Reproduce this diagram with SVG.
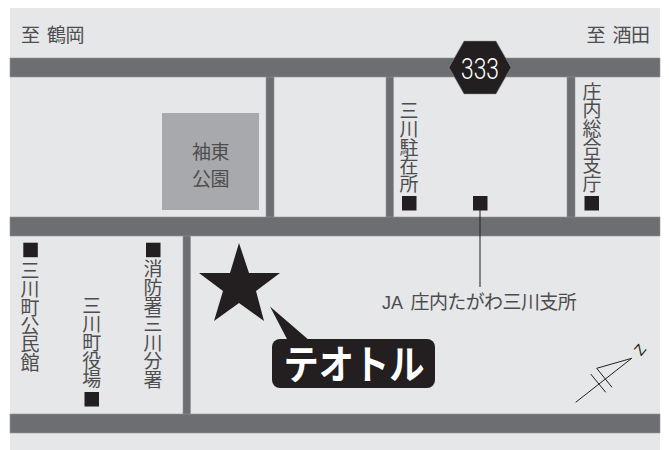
<svg xmlns="http://www.w3.org/2000/svg" width="669" height="450" viewBox="0 0 669 450">
<style>
.t{font-family:"Noto Sans CJK JP","Noto Sans",sans-serif;font-size:19px;letter-spacing:-.6px;font-weight:400;fill:#4d4d4f}
.v{writing-mode:vertical-rl}
.road{fill:#6d6e71;stroke:#939598;stroke-width:.6}
.k{fill:#231f20}
.n{fill:none;stroke:#231f20;stroke-width:1}
</style>
<rect width="669" height="450" fill="#fff"/>
<rect x="10" y="8" width="650" height="442" fill="#e6e7e8"/>
<g id="roads">
<rect class="road" x="266" y="70" width="8" height="150"/>
<rect class="road" x="386" y="70" width="7.500" height="150"/>
<rect class="road" x="567" y="70" width="8" height="150"/>
<rect class="road" x="183" y="230" width="7.500" height="190"/>
<rect class="road" x="10" y="58" width="650" height="19"/>
<rect class="road" x="10" y="217" width="650" height="19"/>
<rect class="road" x="10" y="414" width="650" height="19"/>
</g>
<g id="connectors">
<line class="n" x1="480" y1="205" x2="480" y2="287"/>
</g>
<g id="label-tsuruoka"><text class="t" x="21" y="42" word-spacing="4">至 鶴岡</text></g>
<g id="label-sakata"><text class="t" x="586.500" y="42" word-spacing="4">至 酒田</text></g>
<g id="route-333">
<polygon class="k" points="449,67.500 464,41 496,41 511,67.500 496,94 464,94" stroke="#939598" stroke-width=".5"/>
<text x="461" y="78.500" textLength="38" lengthAdjust="spacingAndGlyphs" font-family="Roboto,sans-serif" font-weight="300" font-size="30" fill="#fff">333</text>
</g>
<g id="park">
<rect x="162" y="113" width="97" height="97" fill="#a7a9ac"/>
<text class="t" x="210.500" y="158.500" text-anchor="middle">袖東</text>
<text class="t" x="210.500" y="185.500" text-anchor="middle">公園</text>
</g>
<g id="mikawa-police">
<text class="t v" x="409" y="101">三川駐在所</text>
<rect class="k" x="402" y="196" width="14.500" height="14.500"/>
</g>
<g id="shonai-office">
<text class="t v" x="592" y="82">庄内総合支庁</text>
<rect class="k" x="584.500" y="196" width="14.500" height="14.500"/>
</g>
<g id="ja-shonai">
<rect class="k" x="473" y="196" width="14.500" height="14.500"/>
<text class="t" x="382" y="308.500"><tspan font-family="Liberation Sans,sans-serif" font-size="18" letter-spacing="0">JA</tspan> <tspan x="410.500">庄内たがわ三川支所</tspan></text>
</g>
<g id="mikawa-hall">
<rect class="k" x="23.300" y="242.700" width="14.500" height="14.500"/>
<text class="t v" x="30" y="261">三川町公民館</text>
</g>
<g id="mikawa-townhall">
<text class="t v" x="91.700" y="296">三川町役場</text>
<rect class="k" x="84.500" y="392" width="14.500" height="14.500"/>
</g>
<g id="fire-station">
<rect class="k" x="146" y="242.700" width="14.500" height="14.500"/>
<text class="t v" x="153" y="259.500">消防署三川分署</text>
</g>
<g id="star">
<polygon class="k" points="239,243 249,273 280,273 256,291 264,321 239,303 214,321 223,291 199,273 230,273"/>
</g>
<g id="teotoru">
<polygon class="k" points="270,306.500 310,341 288,341"/>
<rect class="k" x="272" y="339" width="163" height="49" rx="8"/>
<text x="283.500" y="379" font-family="Noto Sans CJK JP,sans-serif" font-weight="700" font-size="40" fill="#fff" textLength="141" lengthAdjust="spacingAndGlyphs">テオトル</text>
</g>
<g id="north-arrow">
<path class="n" d="M575.700,402.300 L631.700,358.300 L596.700,368.300 L612,387.300 M590.700,374 L605.700,392.300"/>
<text x="0" y="0" transform="translate(641,356.500) rotate(-50)" font-family="Liberation Sans,sans-serif" font-size="15" fill="#231f20">Z</text>
</g>
</svg>
